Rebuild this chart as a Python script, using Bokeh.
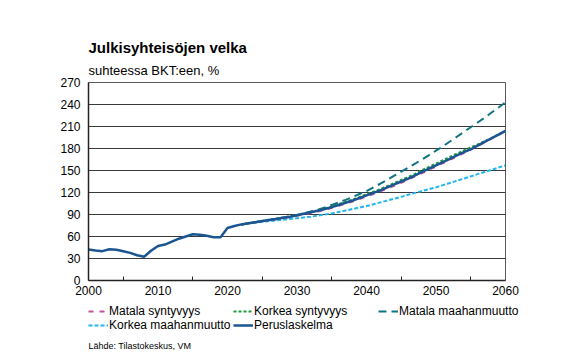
from bokeh.plotting import figure
from bokeh.models import (FixedTicker, Legend, LegendItem, Range1d,
                          ColumnDataSource, Title, Label)
from bokeh.layouts import column, row
from bokeh.embed import file_html
from bokeh.resources import INLINE

# ---------------- data ----------------
hist_years = list(range(2000, 2061))
perus = [42.3, 41, 40, 42.7, 42, 40, 37.7, 34.5, 32.3, 40.5,
         47, 49, 53, 57, 60, 63, 62.5, 61, 59, 59,
         71.5, 74.3, 76.5, 78, 79.5, 81, 82.5, 84, 85.5, 87,
         89, 91, 93, 95, 97.5, 100, 103, 106, 109, 112.5,
         116, 119.5, 123, 127, 131, 135, 139, 143.5, 148, 152.5,
         157, 161.5, 166, 170.5, 175, 179, 184, 189, 194, 199, 204]

scen_years = list(range(2022, 2061))
matala_synt = [76.5, 78, 79.5, 80.8, 82.2, 83.6, 85, 86.5, 88.2,
               90, 92, 94, 96.3, 99, 101.8, 104.8, 107.8, 111, 114.5,
               118, 121.5, 125.3, 129.2, 133.3, 137.5, 142, 146.5, 151, 155.5,
               160, 164.5, 169, 173.8, 178.5, 183.5, 188.5, 193.5, 198.7, 203.8]
korkea_synt = [76.5, 78, 79.5, 81.2, 82.8, 84.4, 86, 87.5, 89.4,
               91.4, 93.6, 95.6, 98.2, 101, 104.2, 107.2, 110.2, 113.8, 117.5,
               121, 124.5, 128.7, 132.8, 137, 141, 145.5, 150.5, 155, 159.5,
               164, 168.5, 173, 177.3, 181.5, 185.5, 190, 194.5, 199.3, 204.2]
matala_maahan = [76.5, 78, 79.5, 81, 82.5, 84, 85.5, 87.5, 89.5,
                 91.5, 94, 96.5, 99.5, 103, 106.5, 110, 114, 118, 122,
                 127, 132, 137.5, 143, 148.5, 154, 159.5, 165, 171, 177,
                 183, 189.5, 196, 202.5, 209, 215.5, 222, 229, 236, 243]
korkea_maahan = [76.5, 78, 79, 80, 81, 82, 83, 84, 85,
                 86, 87, 88.5, 90, 91.5, 93.5, 95.5, 97.5, 99.5, 101.5,
                 104, 106.5, 109, 111.5, 114, 117, 119.5, 122, 124.5, 127,
                 130, 133, 136, 139, 142, 145, 148, 151, 154, 157]

y_ticks = list(range(0, 271, 30))
x_ticks = list(range(2000, 2061, 10))
x_minor = list(range(2005, 2060, 10))

labels = ["Matala syntyvyys", "Korkea syntyvyys", "Matala maahanmuutto",
          "Korkea maahanmuutto", "Peruslaskelma"]
title_text = "Julkisyhteisöjen velka"
subtitle_text = "suhteessa BKT:een, %"
source_text = "Lähde: Tilastokeskus, VM"

FONT = "Liberation Sans"

# series styles: (color, dash, width)
styles = {
    "ms": ("#c9509f", "5 6", 2),
    "ks": ("#1a9c3a", "3 2", 2),
    "mm": ("#0f7380", "8 5", 2),
    "km": ("#21b6ee", "4 2", 2),
    "pl": ("#1b5592", "solid", 2.5),
}

# ---------------- main figure ----------------
W, H = 555, 300
p = figure(width=W, height=H, output_backend="svg", toolbar_location=None,
           x_range=Range1d(2000, 2060), y_range=Range1d(0, 270),
           min_border_left=88, min_border_right=50,
           min_border_top=82, min_border_bottom=20)
p.outline_line_color = "#5a5a5a"
p.outline_line_width = 1
p.background_fill_color = "white"
p.border_fill_color = "white"

p.xgrid.grid_line_color = None
p.ygrid.grid_line_color = "#3a3a3a"
p.ygrid.grid_line_width = 1
p.ygrid.ticker = FixedTicker(ticks=y_ticks)

p.yaxis.ticker = FixedTicker(ticks=y_ticks)
p.yaxis.major_tick_out = 0
p.yaxis.major_tick_in = 0
p.yaxis.minor_tick_out = 0
p.yaxis.minor_tick_in = 0
p.yaxis.axis_line_color = "#222222"
p.yaxis.axis_line_width = 1.5
p.yaxis.major_label_text_font = FONT
p.yaxis.major_label_text_font_size = "12px"
p.yaxis.major_label_text_color = "black"
p.yaxis.major_label_standoff = 8

p.xaxis.ticker = FixedTicker(ticks=x_ticks, minor_ticks=x_minor)
p.xaxis.major_tick_out = 0
p.xaxis.major_tick_in = 0
p.xaxis.minor_tick_in = 4
p.xaxis.minor_tick_out = 0
p.xaxis.minor_tick_line_color = "#222222"
p.xaxis.axis_line_color = "#222222"
p.xaxis.axis_line_width = 1.5
p.xaxis.major_label_text_font = FONT
p.xaxis.major_label_text_font_size = "12px"
p.xaxis.major_label_text_color = "black"
p.xaxis.major_label_standoff = 5

hist_src = ColumnDataSource(dict(x=hist_years, y=perus))
scen_src = ColumnDataSource(dict(x=scen_years, ms=matala_synt, ks=korkea_synt,
                                 mm=matala_maahan, km=korkea_maahan))

for key in ["km", "mm", "ms", "ks"]:
    c, d, w = styles[key]
    p.line("x", key, source=scen_src, line_color=c, line_width=w, line_dash=d)
c, d, w = styles["pl"]
p.line("x", "y", source=hist_src, line_color=c, line_width=w)

p.add_layout(Title(text=subtitle_text, text_font=FONT, text_font_size="13px",
                   text_font_style="normal", text_color="black",
                   align="left", offset=0, standoff=10), "above")
p.add_layout(Title(text=title_text, text_font=FONT, text_font_size="15px",
                   text_font_style="bold", text_color="black",
                   align="left", offset=0, standoff=0), "above")

# ---------------- legend figure ----------------
LH = 53
lf = figure(width=W, height=LH, output_backend="svg", toolbar_location=None,
            x_range=Range1d(0, 1), y_range=Range1d(0, 1),
            min_border_left=0, min_border_right=0,
            min_border_top=0, min_border_bottom=0)
lf.axis.visible = False
lf.grid.grid_line_color = None
lf.outline_line_color = None
lf.background_fill_color = "white"
lf.border_fill_color = "white"

nan = float("nan")
legend_src = ColumnDataSource(dict(x=[nan], y=[nan]))
rend = {}
for key in ["ms", "ks", "mm", "km", "pl"]:
    c, d, w = styles[key]
    rend[key] = lf.line("x", "y", source=legend_src, line_color=c,
                        line_width=w, line_dash=d)

legend = Legend(items=[
    LegendItem(label=labels[0], renderers=[rend["ms"]]),
    LegendItem(label=labels[1], renderers=[rend["ks"]]),
    LegendItem(label=labels[2], renderers=[rend["mm"]]),
    LegendItem(label=labels[3], renderers=[rend["km"]]),
    LegendItem(label=labels[4], renderers=[rend["pl"]]),
], ncols=3, location=(88, 21), orientation="horizontal",
    label_text_font=FONT, label_text_font_size="12px",
    label_text_color="black",
    glyph_width=20, glyph_height=10, label_height=10, label_width=124,
    label_standoff=1, spacing=0, padding=0, margin=0,
    border_line_color=None, background_fill_alpha=0)
lf.add_layout(legend, "center")

lf.add_layout(Label(x=88, y=8, x_units="screen", y_units="screen",
                    text=source_text, text_font=FONT, text_font_size="9px",
                    text_baseline="middle", text_color="black"))

layout = column(p, row(lf), spacing=0)
open("out.html", "w").write(file_html(layout, INLINE))
